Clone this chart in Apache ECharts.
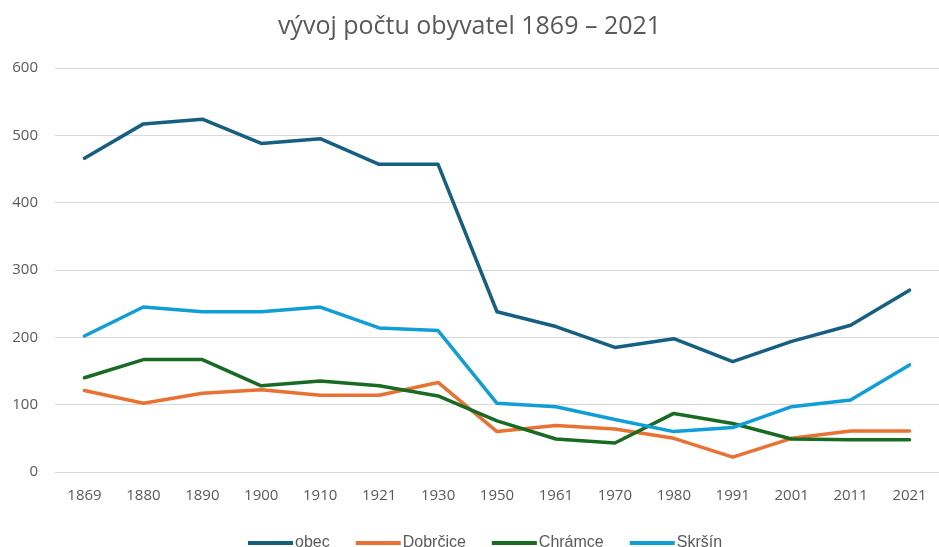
<!DOCTYPE html>
<html><head><meta charset="utf-8">
<script src="https://cdn.jsdelivr.net/npm/echarts@6/dist/echarts.min.js"></script>
<style>html,body{margin:0;padding:0;background:#fff}#c{width:939px;height:547px}</style>
</head><body><div id="c"></div>
<script>
const years = ['1869','1880','1890','1900','1910','1921','1930','1950','1961','1970','1980','1991','2001','2011','2021'];
const obec = [466,517,524,488,495,457,457,238,216,185,198,164,194,218,270];
const dobrcice = [121,102,117,122,114,114,133,60,69,64,50,22,50,61,61];
const chramce = [140,167,167,128,135,128,113,76,49,43,87,72,49,48,48];
const skrsin = [202,245,238,238,245,214,210,102,97,78,60,66,97,107,159];
const seriesNames = ['obec','Dobrčice','Chrámce','Skršín'];
const colors = ['#156082','#E97132','#196B24','#0F9ED5'];
const font = 'Open Sans, Noto Sans, sans-serif';
const mk = (name, data, color) => ({
  name, type: 'line', data, symbol: 'none', smooth: false,
  lineStyle: { width: 3.5, color, cap: 'round', join: 'round' }, itemStyle: { color }
});
const chart = echarts.init(document.getElementById('c'));
chart.setOption({
  animation: false,
  title: { text: 'vývoj počtu obyvatel 1869 – 2021', left: 'center', top: 9,
    textStyle: { fontFamily: font, fontSize: 25, fontWeight: 'normal', color: '#595959' } },
  legend: { top: 530, left: 243, itemWidth: 45, itemHeight: 4, itemGap: 26,
    icon: 'rect',
    textStyle: { fontFamily: 'Liberation Sans, Arial, sans-serif', fontSize: 16, color: '#595959', padding: [0, 0, 0, -3] },
    data: seriesNames },
  grid: { left: 55, right: -4, top: 68, bottom: 75, containLabel: false },
  xAxis: { type: 'category', data: years, boundaryGap: true,
    axisLine: { show: false }, axisTick: { show: false },
    axisLabel: { fontFamily: font, fontSize: 15, color: '#595959', margin: 16 } },
  yAxis: { type: 'value', min: 0, max: 600, interval: 100,
    axisLine: { show: false }, axisTick: { show: false },
    axisLabel: { fontFamily: font, fontSize: 15, color: '#595959', margin: 17 },
    splitLine: { lineStyle: { color: '#d9d9d9', width: 1 } } },
  series: [mk(seriesNames[0], obec, colors[0]), mk(seriesNames[1], dobrcice, colors[1]),
           mk(seriesNames[2], chramce, colors[2]), mk(seriesNames[3], skrsin, colors[3])]
});
</script></body></html>
